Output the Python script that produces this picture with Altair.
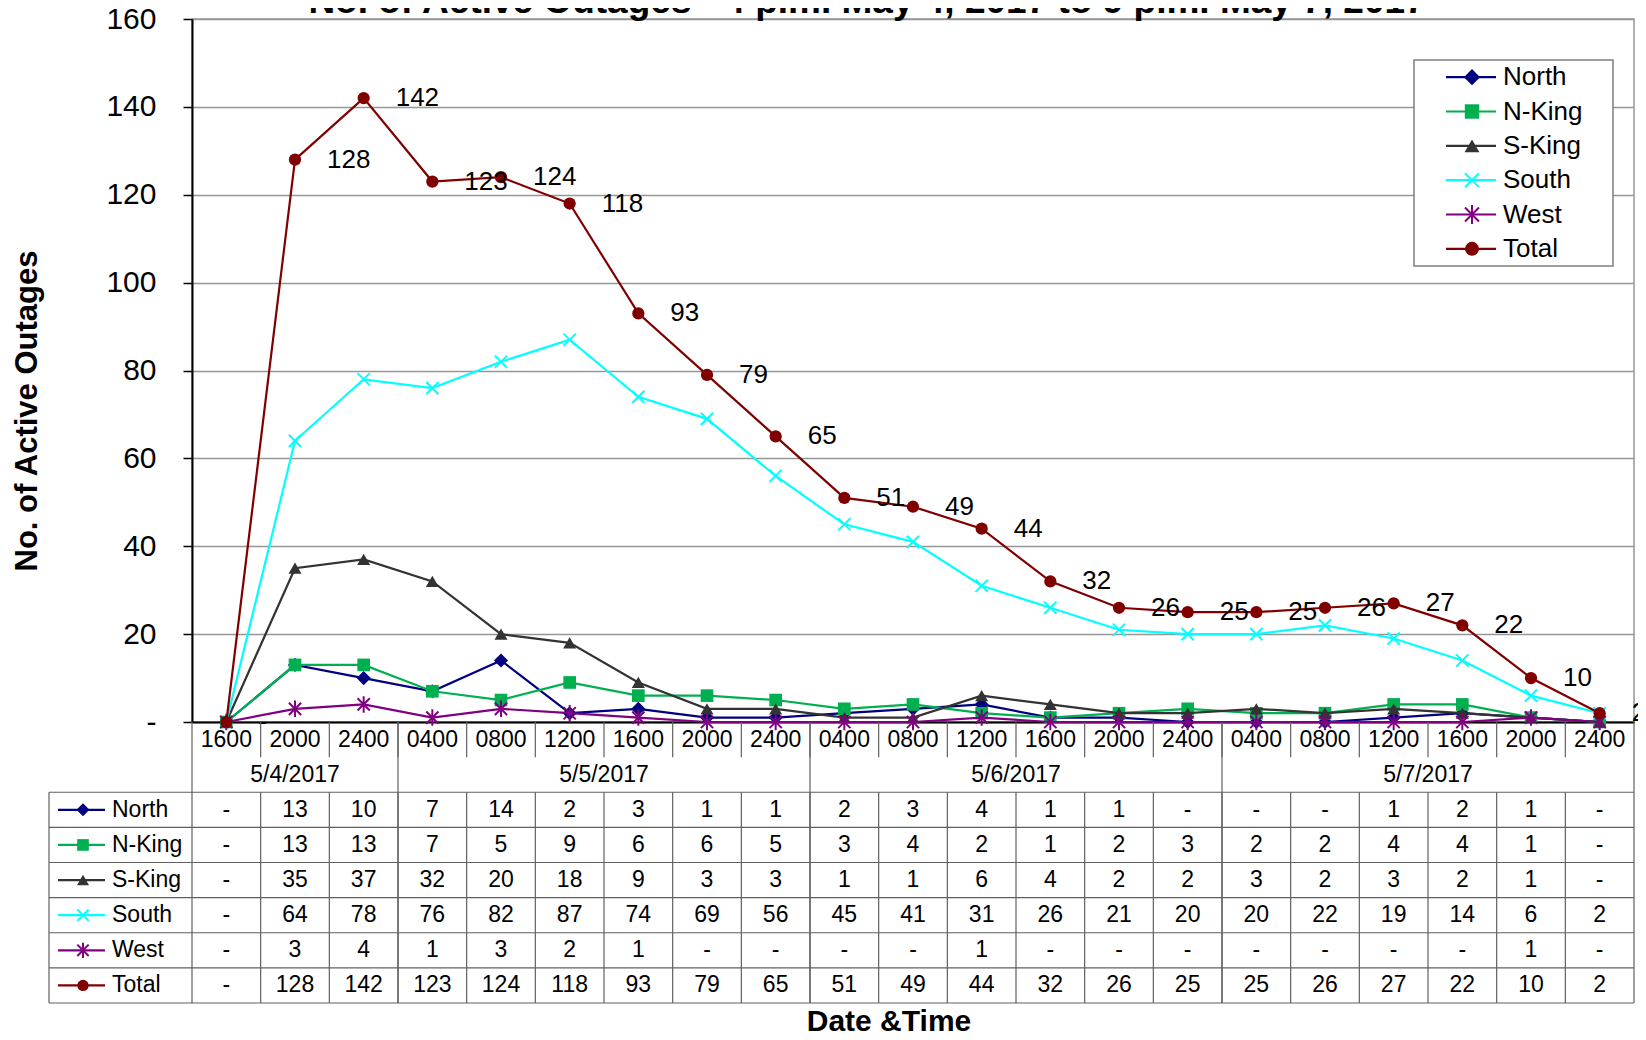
import altair as alt
import pandas as pd

# ---------------- data ----------------
dates = ["5/4/2017", "5/5/2017", "5/6/2017", "5/7/2017"]
date_counts = [3, 6, 6, 6]
times = ["1600", "2000", "2400", "0400", "0800", "1200", "1600", "2000", "2400",
         "0400", "0800", "1200", "1600", "2000", "2400",
         "0400", "0800", "1200", "1600", "2000", "2400"]
series = ["North", "N-King", "S-King", "South", "West", "Total"]
north = [0, 13, 10, 7, 14, 2, 3, 1, 1, 2, 3, 4, 1, 1, 0, 0, 0, 1, 2, 1, 0]
n_king = [0, 13, 13, 7, 5, 9, 6, 6, 5, 3, 4, 2, 1, 2, 3, 2, 2, 4, 4, 1, 0]
s_king = [0, 35, 37, 32, 20, 18, 9, 3, 3, 1, 1, 6, 4, 2, 2, 3, 2, 3, 2, 1, 0]
south = [0, 64, 78, 76, 82, 87, 74, 69, 56, 45, 41, 31, 26, 21, 20, 20, 22, 19, 14, 6, 2]
west = [0, 3, 4, 1, 3, 2, 1, 0, 0, 0, 0, 1, 0, 0, 0, 0, 0, 0, 0, 1, 0]
total = [0, 128, 142, 123, 124, 118, 93, 79, 65, 51, 49, 44, 32, 26, 25, 25, 26, 27, 22, 10, 2]
y_ticks = [0, 20, 40, 60, 80, 100, 120, 140, 160]
title_text = "No. of Active Outages -  4 p.m. May 4, 2017 to 9 p.m. May 7, 2017"
y_title = "No. of Active Outages"
x_title = "Date &Time"

# ---------------- styles ----------------
FONT = "Liberation Sans"
colors = ["#000080", "#00B050", "#333333", "#00FFFF", "#800080", "#800000"]
X_PATH = "M-1,-1L1,1M-1,1L1,-1"
AST_PATH = "M-1,-1L1,1M-1,1L1,-1M0,-1.35L0,1.35"
marker = {
    "North": dict(shape="diamond", filled=True, size=200),
    "N-King": dict(shape="square", filled=True, size=160),
    "S-King": dict(shape="triangle-up", filled=True, size=170),
    "South": dict(shape=X_PATH, filled=False, size=150, strokeWidth=2),
    "West": dict(shape=AST_PATH, filled=False, size=150, strokeWidth=2),
    "Total": dict(shape="circle", filled=True, size=150),
}
W, H = 1442, 703
GRID = "#969696"
TABLE_LINE = "#606060"
LINE_W = 2.2

values = [north, n_king, s_king, south, west, total]
n = len(times)

rows = []
for k, (s, vals) in enumerate(zip(series, values)):
    for i, v in enumerate(vals):
        rows.append(dict(series=s, pos=i + 0.5, value=v,
                         label=(str(v) if v else "-"), row=k + 0.5))
df = pd.DataFrame(rows)

# shared x scale (category index)
X = alt.X("pos:Q", scale=alt.Scale(domain=[0, n], nice=False, zero=False),
          axis=alt.Axis(title=None, labels=False, ticks=False, grid=False,
                        domainColor="black", domainWidth=2))

# ---------------- plot group ----------------
Y = alt.Y("value:Q",
          scale=alt.Scale(domain=[0, 160], nice=False),
          axis=alt.Axis(title=None, values=y_ticks, grid=True, gridColor=GRID,
                        gridWidth=1.5, domainColor="black", domainWidth=2,
                        tickColor="black", tickSize=9, tickWidth=1.5,
                        labelFontSize=30, labelFont=FONT, labelColor="black",
                        labelPadding=27,
                        labelExpr="datum.value == 0 ? '-' : datum.label"))

plot_layers = []
for s, c in zip(series, colors):
    d = df[df.series == s]
    plot_layers.append(alt.Chart(d).mark_line(color=c, strokeWidth=LINE_W).encode(x=X, y=Y))
    m = marker[s]
    plot_layers.append(
        alt.Chart(d).mark_point(color=c, opacity=1, **m).encode(x=X, y=Y))

tot = df[df.series == "Total"]
plot_layers.append(
    alt.Chart(tot).mark_text(align="left", baseline="middle", dx=32, fontSize=26,
                             font=FONT, color="black")
    .encode(x=X, y=Y, text="label:N"))
plot = alt.layer(*plot_layers)

# ---------------- data table group ----------------
TY_SCALE = alt.Scale(domain=[-2, 6], range=[H, 984], nice=False, zero=False)
TY = alt.Y("row:Q", scale=TY_SCALE, axis=None)
TY2 = alt.Y2("row2:Q")

time_df = pd.DataFrame({"pos": [i + 0.5 for i in range(n)], "row": -1.5, "txt": times})
starts = [sum(date_counts[:j]) for j in range(len(dates))]
date_df = pd.DataFrame({"pos": [st + c / 2 for st, c in zip(starts, date_counts)],
                        "row": -0.5, "txt": dates})
bounds = starts + [n]
sep_rows = []
for b in range(1, n):
    sep_rows.append(dict(pos=b, row=-2, row2=-1))
    sep_rows.append(dict(pos=b, row=0, row2=6))
for b in bounds:
    sep_rows.append(dict(pos=b, row=-2, row2=6))
sep_df = pd.DataFrame(sep_rows)
hline_df = pd.DataFrame({"row": list(range(0, 7))})
key_df = pd.DataFrame({"series": series, "row": [k + 0.5 for k in range(len(series))]})

table_layers = [
    alt.Chart(sep_df).mark_rule(color=TABLE_LINE, strokeWidth=1.2).encode(x=X, y=TY, y2=TY2),
    alt.Chart(hline_df).mark_rule(color=TABLE_LINE, strokeWidth=1.2).encode(
        x=alt.value(-143), x2=alt.value(W), y=TY),
    alt.Chart(pd.DataFrame({"row": [0], "row2": [6]})).mark_rule(
        color=TABLE_LINE, strokeWidth=1.2).encode(x=alt.value(-143), y=TY, y2=TY2),
    alt.Chart(time_df).mark_text(fontSize=23, font=FONT, color="black", baseline="middle")
    .encode(x=X, y=TY, text="txt:N"),
    alt.Chart(date_df).mark_text(fontSize=23, font=FONT, color="black", baseline="middle")
    .encode(x=X, y=TY, text="txt:N"),
    alt.Chart(df).mark_text(fontSize=23, font=FONT, color="black", baseline="middle")
    .encode(x=X, y=TY, text="label:N"),
]
for s, c in zip(series, colors):
    d = key_df[key_df.series == s]
    table_layers.append(alt.Chart(d).mark_rule(color=c, strokeWidth=LINE_W).encode(
        x=alt.value(-134), x2=alt.value(-87), y=TY))
    m = dict(marker[s])
    m["size"] = m["size"] * 0.85
    table_layers.append(alt.Chart(d).mark_point(color=c, opacity=1, **m).encode(
        x=alt.value(-109), y=TY))
table_layers.append(
    alt.Chart(key_df).mark_text(align="left", baseline="middle", fontSize=23, font=FONT,
                                color="black")
    .encode(x=alt.value(-80), y=TY, text="series:N"))
table = alt.layer(*table_layers)

# ---------------- legend group ----------------
LY_SCALE = alt.Scale(domain=[0, 6], range=[41, 247], nice=False, zero=False)
LY = alt.Y("row:Q", scale=LY_SCALE, axis=None)
legend_layers = [
    alt.Chart(pd.DataFrame({"row": [0], "row2": [6]})).mark_rect(
        fill="white", stroke="#7f7f7f", strokeWidth=1.5)
    .encode(x=alt.value(1222), x2=alt.value(1421), y=LY, y2=alt.Y2("row2:Q"))
]
for s, c in zip(series, colors):
    d = key_df[key_df.series == s]
    legend_layers.append(alt.Chart(d).mark_rule(color=c, strokeWidth=LINE_W).encode(
        x=alt.value(1254), x2=alt.value(1304), y=LY))
    m = dict(marker[s])
    m["size"] = m["size"] * 1.3
    legend_layers.append(alt.Chart(d).mark_point(color=c, opacity=1, **m).encode(
        x=alt.value(1280), y=LY))
legend_layers.append(
    alt.Chart(key_df).mark_text(align="left", baseline="middle", fontSize=26, font=FONT,
                                color="black")
    .encode(x=alt.value(1311), y=LY, text="series:N"))
legend = alt.layer(*legend_layers)

# ---------------- titles ----------------
titles = alt.layer(
    alt.Chart(pd.DataFrame({"t": [title_text]})).mark_text(
        fontSize=37, fontWeight="bold", font=FONT, color="black", baseline="alphabetic")
    .encode(x=alt.value(675), y=alt.value(-6.5), text="t:N"),
    alt.Chart(pd.DataFrame({"t": [y_title]})).mark_text(
        fontSize=31, fontWeight="bold", font=FONT, color="black", angle=270,
        baseline="middle")
    .encode(x=alt.value(-164), y=alt.value(392), text="t:N"),
    alt.Chart(pd.DataFrame({"t": [x_title]})).mark_text(
        fontSize=30, fontWeight="bold", font=FONT, color="black", baseline="alphabetic")
    .encode(x=alt.value(697), y=alt.value(1012), text="t:N"),
)

chart = alt.layer(plot, table, legend, titles).resolve_scale(y="independent").properties(
    width=W, height=H,
    autosize=alt.AutoSizeParams(type="none"),
    padding={"left": 184, "top": 11, "right": 4, "bottom": 310},
).configure_view(stroke=GRID, strokeWidth=1.5)

chart.save("out.html", embed_options={"renderer": "svg", "actions": False})
